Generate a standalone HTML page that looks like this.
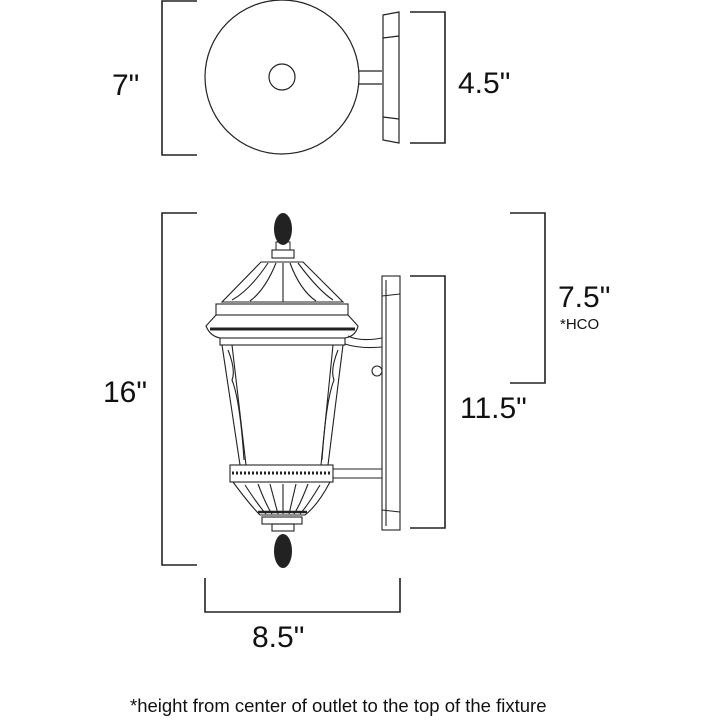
<!DOCTYPE html>
<html><head><style>
body{margin:0;background:#fff}
svg{display:block}
text{font-family:"Liberation Sans",sans-serif;fill:#111}
</style></head><body>
<svg width="720" height="720" viewBox="0 0 720 720" xmlns="http://www.w3.org/2000/svg">
<g fill="none" stroke="#222" stroke-width="1.6">
<polyline points="197,1 162,1 162,155 197,155"/>
<circle cx="282" cy="77" r="77" stroke-width="1.2"/>
<circle cx="282" cy="77" r="13" stroke-width="1.2"/>
<line x1="358" y1="71" x2="382" y2="71" stroke-width="1.2"/>
<line x1="358" y1="84" x2="382" y2="84" stroke-width="1.2"/>
<polygon points="383,15 399,12 399,143 383,140" stroke-width="1.2"/>
<line x1="383" y1="38" x2="399" y2="36" stroke-width="1.2"/>
<line x1="383" y1="117" x2="399" y2="119" stroke-width="1.2"/>
<polyline points="410,12 445,12 445,143 410,143"/>
<polyline points="197,213 162,213 162,565 197,565"/>
<polyline points="510,213 545,213 545,383 510,383"/>
<polyline points="410,276 445,276 445,528 410,528"/>
<polyline points="205,578 205,612 400,612 400,578"/>
</g>
<g fill="none" stroke="#222" stroke-width="1.1">
<rect x="382" y="276" width="18" height="254"/>
<line x1="386" y1="280" x2="386" y2="526"/>
<line x1="382" y1="296" x2="400" y2="294"/>
<line x1="382" y1="510" x2="400" y2="512"/>
<path d="M348,336 Q360,342 382,338 M345,344 Q360,349 382,347"/>
<line x1="333" y1="469" x2="382" y2="469"/>
<line x1="333" y1="478" x2="382" y2="478"/>
<circle cx="377" cy="371" r="5"/>
<rect x="272" y="250" width="22" height="8"/>
<polygon points="261,262 303,262 343,302 222,302"/>
<path d="M268,263 Q250,290 232,300 M276,263 Q265,290 250,301 M283,263 L283,302 M290,263 Q300,290 316,301 M298,263 Q318,290 333,300"/>
<rect x="216" y="304" width="132" height="11"/>
<path d="M216,315 L206,326 Q210,336 220,338 L345,338 Q356,336 358,326 L348,315"/>
<line x1="210" y1="329" x2="355" y2="329" stroke-width="3"/>
<rect x="220" y="338" width="125" height="7"/>
<polygon points="222,345 343,345 328,465 240,465"/>
<polygon points="232,345 333,345 321,465 246,465"/>
<path d="M228,350 Q236,370 232,380 Q240,400 244,460 M338,350 Q330,370 334,380 Q326,400 322,460"/>
<rect x="230" y="465" width="103" height="17"/>
<line x1="232" y1="473" x2="331" y2="473" stroke-dasharray="2,2" stroke-width="3"/>
<path d="M233,482 Q250,505 260,515 L305,515 Q318,505 330,482"/>
<path d="M245,485 Q258,505 266,514 M258,484 Q266,505 272,514 M270,484 L278,514 M283,484 L283,514 M296,484 L289,514 M308,484 Q300,505 294,514 M320,485 Q308,505 300,514"/>
<line x1="258" y1="512" x2="307" y2="512" stroke-width="2.5"/>
<rect x="262" y="517" width="40" height="7"/>
<rect x="272" y="524" width="22" height="7"/>
</g>
<ellipse cx="283" cy="229" rx="9" ry="16" fill="#222"/>
<rect x="276" y="242" width="14" height="8" fill="none" stroke="#222"/>
<ellipse cx="283" cy="551" rx="9" ry="17" fill="#222"/>
<text x="112" y="95" font-size="30">7"</text>
<text x="458" y="93" font-size="30">4.5"</text>
<text x="103" y="402" font-size="30">16"</text>
<text x="558" y="307" font-size="30">7.5"</text>
<text x="560" y="329" font-size="15">*HCO</text>
<text x="460" y="418" font-size="30">11.5"</text>
<text x="252" y="647" font-size="30">8.5"</text>
<text x="130" y="712" font-size="18.5">*height from center of outlet to the top of the fixture</text>
</svg>
</body></html>
